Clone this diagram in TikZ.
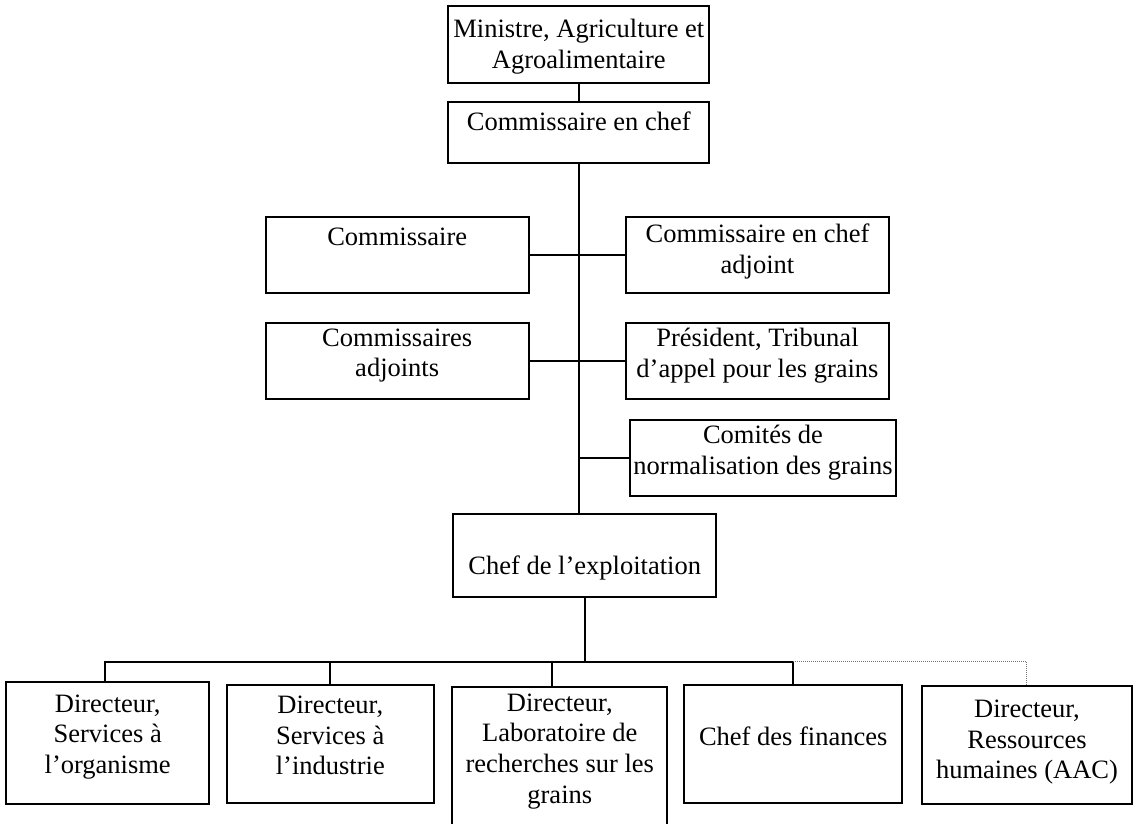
\documentclass[tikz,border=0pt]{standalone}
\usepackage{fontspec}
\setmainfont{Liberation Serif}
\begin{document}
\begin{tikzpicture}[x=1pt,y=-1pt,
  box/.style={draw=black, line width=2.2pt, inner sep=0pt, outer sep=0pt, anchor=north west},
  txt/.style={inner sep=0pt, outer sep=0pt, anchor=north, align=center,
    font=\fontsize{26.5}{30.7}\selectfont, execute at begin node=\strut},
  link/.style={line width=2.2pt, line cap=rect},
  dotlink/.style={line width=0.9pt, draw=black!55, dash pattern=on 1pt off 1pt}]
\useasboundingbox (0,0) rectangle (1133,823);
% ---- boxes (left, top, width, height)
\node[box, minimum width=261pt, minimum height=77pt] (mins) at (448.3,6) {};
\node[box, minimum width=261pt, minimum height=61pt] (chef) at (448.3,102) {};
\node[box, minimum width=263pt, minimum height=76.6pt] (comm) at (265.7,216.7) {};
\node[box, minimum width=263pt, minimum height=76.6pt] (adj) at (626,216.7) {};
\node[box, minimum width=263pt, minimum height=76.6pt] (cadj) at (265.7,322.7) {};
\node[box, minimum width=263pt, minimum height=76.6pt] (pres) at (626,322.7) {};
\node[box, minimum width=266pt, minimum height=75.7pt] (comi) at (630,420) {};
\node[box, minimum width=262.7pt, minimum height=82.7pt] (cexp) at (453.3,514) {};
\node[box, minimum width=203.3pt, minimum height=122pt] (d1) at (6,682.3) {};
\node[box, minimum width=207.3pt, minimum height=117.7pt] (d2) at (226.7,685) {};
\node[box, minimum width=215pt, minimum height=139pt] (d3) at (452.3,687.3) {};
\node[box, minimum width=218.3pt, minimum height=118pt] (d4) at (684,685) {};
\node[box, minimum width=210pt, minimum height=118.3pt] (d5) at (921.7,686) {};
% ---- texts
\node[txt] (tmins) at (578.8,19) {Ministre, Agriculture et\\Agroalimentaire};
\node[txt] (tchef) at (578.8,109.5) {Commissaire en chef};
\node[txt] (tcomm) at (397.2,224.2) {Commissaire};
\node[txt] (tadj) at (757.5,224.2) {Commissaire en chef\\adjoint};
\node[txt] (tcadj) at (397.2,328.5) {Commissaires\\adjoints};
\node[txt] (tpres) at (757.5,328.5) {Président, Tribunal\\d’appel pour les grains};
\node[txt] (tcomi) at (763,425.2) {Comités de\\normalisation des grains};
\node[txt] (tcexp) at (584.7,552.5) {Chef de l’exploitation};
\node[txt] (td1) at (107.7,694.5) {Directeur,\\Services à\\l’organisme};
\node[txt] (td2) at (330.3,696) {Directeur,\\Services à\\l’industrie};
\node[txt] (td3) at (559.8,693.5) {Directeur,\\Laboratoire de\\recherches sur les\\grains};
\node[txt] (td4) at (793.2,723.5) {Chef des finances};
\node[txt] (td5) at (1027,700) {Directeur,\\Ressources\\humaines (AAC)};
% ---- connectors
\coordinate (barL) at (105,661.7);
\coordinate (c3) at (552.3,661.7);
\draw[link] (mins.south) -- (chef.north);
\draw[link] (chef.south) -- (chef.south |- cexp.north);
\draw[link] (comm.east) -- (adj.west);
\draw[link] (cadj.east) -- (pres.west);
\draw[link] (chef.south |- comi.west) -- (comi.west);
\draw[link] (cexp.south) -- (cexp.south |- barL);
\draw[link] (barL) -- (d4.north |- barL);
\draw[link] (barL) -- (barL |- d1.north);
\draw[link] (d2.north |- barL) -- (d2.north);
\draw[link] (c3) -- (c3 |- d3.north);
\draw[link] (d4.north |- barL) -- (d4.north);
\draw[dotlink] (d4.north |- barL) -- (d5.north |- barL) -- (d5.north);
\end{tikzpicture}
\end{document}
